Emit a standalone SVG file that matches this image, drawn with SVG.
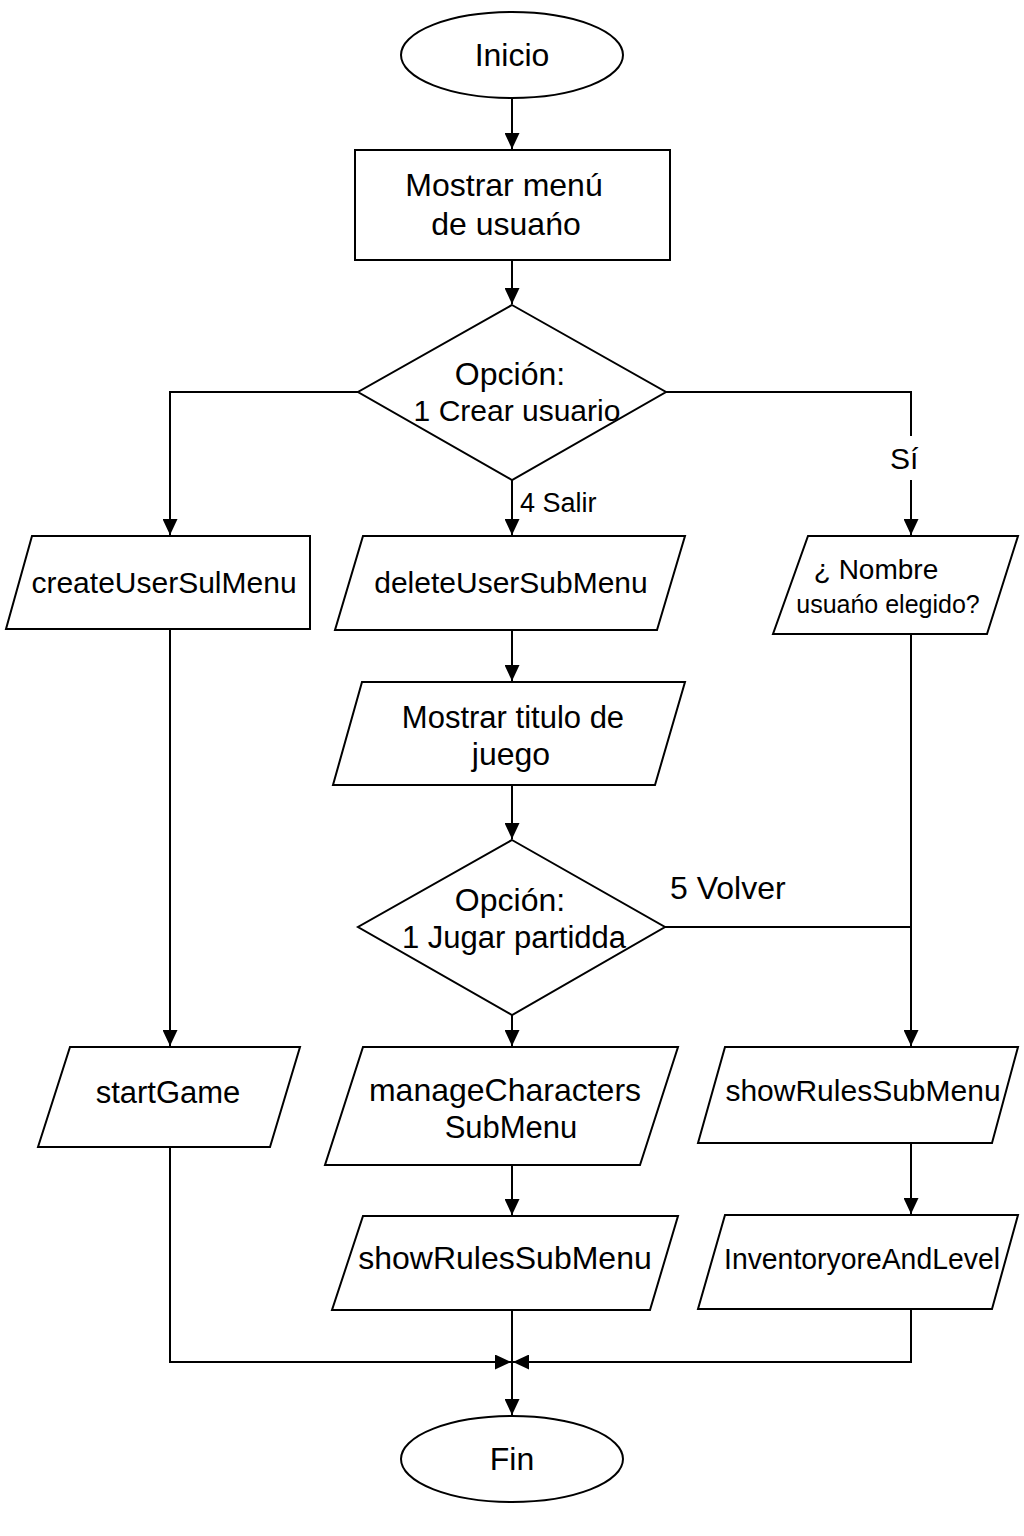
<svg xmlns="http://www.w3.org/2000/svg" width="1024" height="1536" viewBox="0 0 1024 1536">
<defs>
<style>
.s{fill:#fff;stroke:#000;stroke-width:2}
.c{fill:none;stroke:#000;stroke-width:2}
text{font-family:"Liberation Sans",Arial,sans-serif;font-size:31px;fill:#000;text-anchor:middle}
.t30{font-size:30px}
.t32{font-size:32px}
.lbl{text-anchor:start}
</style>
<marker id="ah" viewBox="0 0 10 10" refX="10" refY="5" markerWidth="16" markerHeight="15" markerUnits="userSpaceOnUse" orient="auto" preserveAspectRatio="none">
<path d="M0,0 L10,5 L0,10 z" fill="#000"/>
</marker>
</defs>
<rect width="1024" height="1536" fill="#fff"/>
<g id="connectors">
<path class="c" d="M512,98 V149" marker-end="url(#ah)"/>
<path class="c" d="M512,260 V304" marker-end="url(#ah)"/>
<path class="c" d="M358,392 H170 V535" marker-end="url(#ah)"/>
<path class="c" d="M666,392 H911 V535" marker-end="url(#ah)"/>
<path class="c" d="M512,480 V535" marker-end="url(#ah)"/>
<path class="c" d="M512,630 V681" marker-end="url(#ah)"/>
<path class="c" d="M512,785 V839" marker-end="url(#ah)"/>
<path class="c" d="M512,1015 V1046" marker-end="url(#ah)"/>
<path class="c" d="M665,927 H911"/>
<path class="c" d="M911,634 V1046" marker-end="url(#ah)"/>
<path class="c" d="M170,629 V1046" marker-end="url(#ah)"/>
<path class="c" d="M911,1143 V1214" marker-end="url(#ah)"/>
<path class="c" d="M512,1165 V1215" marker-end="url(#ah)"/>
<path class="c" d="M170,1147 V1362 H511" marker-end="url(#ah)"/>
<path class="c" d="M911,1309 V1362 H513" marker-end="url(#ah)"/>
<path class="c" d="M512,1310 V1415" marker-end="url(#ah)"/>
<rect x="886" y="436" width="36" height="44" fill="#fff"/>
<text x="890" y="469" class="lbl t30">Sí</text>
<text x="520" y="512" class="lbl" style="font-size:27px">4 Salir</text>
<text x="670" y="899" class="lbl t32">5 Volver</text>
</g>
<g id="inicio">
<ellipse class="s" cx="512" cy="55" rx="111" ry="43"/>
<text x="512" y="66" class="t32">Inicio</text>
</g>
<g id="mostrar-menu">
<rect class="s" x="355" y="150" width="315" height="110"/>
<text x="504" y="196" class="t32">Mostrar menú</text>
<text x="506" y="235" class="t32">de usuańo</text>
</g>
<g id="opcion1">
<polygon class="s" points="512,305 666,392 512,480 358,392"/>
<text x="510" y="385" class="t32">Opción:</text>
<text x="517" y="421" class="t30">1 Crear usuario</text>
</g>
<g id="createUser">
<polygon class="s" points="32,536 310,536 310,629 6,629"/>
<text x="164" y="593" class="t30">createUserSulMenu</text>
</g>
<g id="deleteUser">
<polygon class="s" points="363,536 685,536 657,630 335,630"/>
<text x="511" y="593" class="t30">deleteUserSubMenu</text>
</g>
<g id="nombre">
<polygon class="s" points="808,536 1018,536 987,634 773,634"/>
<text x="876" y="579" style="font-size:28px">¿ Nombre</text>
<text x="888" y="613" style="font-size:25px">usuańo elegido?</text>
</g>
<g id="titulo">
<polygon class="s" points="362,682 685,682 655,785 333,785"/>
<text x="513" y="728">Mostrar titulo de</text>
<text x="511" y="765" class="t32">juego</text>
</g>
<g id="opcion2">
<polygon class="s" points="512,840 665,927 512,1015 358,927"/>
<text x="510" y="911" class="t32">Opción:</text>
<text x="514" y="948">1 Jugar partidda</text>
</g>
<g id="startGame">
<polygon class="s" points="70,1047 300,1047 270,1147 38,1147"/>
<text x="168" y="1103">startGame</text>
</g>
<g id="manageCharacters">
<polygon class="s" points="363,1047 678,1047 640,1165 325,1165"/>
<text x="505" y="1101" class="t32">manageCharacters</text>
<text x="511" y="1138">SubMenu</text>
</g>
<g id="showRulesRight">
<polygon class="s" points="725,1047 1018,1047 992,1143 698,1143"/>
<text x="863" y="1101" class="t30">showRulesSubMenu</text>
</g>
<g id="showRulesMid">
<polygon class="s" points="363,1216 678,1216 650,1310 332,1310"/>
<text x="505" y="1269" class="t32">showRulesSubMenu</text>
</g>
<g id="inventory">
<polygon class="s" points="725,1215 1018,1215 992,1309 698,1309"/>
<text x="862" y="1269" class="t30" textLength="276" lengthAdjust="spacingAndGlyphs">InventoryoreAndLevel</text>
</g>
<g id="fin">
<ellipse class="s" cx="512" cy="1459" rx="111" ry="43"/>
<text x="512" y="1470" class="t32">Fin</text>
</g>
</svg>
